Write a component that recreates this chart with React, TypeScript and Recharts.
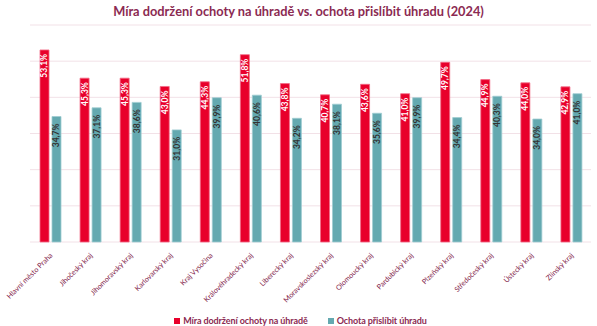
import { BarChart, Bar, XAxis, YAxis, CartesianGrid, LabelList } from 'recharts'

const regions = [
  'Hlavní město Praha',
  'Jihočeský kraj',
  'Jihomoravský kraj',
  'Karlovarský kraj',
  'Kraj Vysočina',
  'Královéhradecký kraj',
  'Liberecký kraj',
  'Moravskoslezský kraj',
  'Olomoucký kraj',
  'Pardubický kraj',
  'Plzeňský kraj',
  'Středočeský kraj',
  'Ústecký kraj',
  'Zlínský kraj',
]

const dodrzeni = [53.1, 45.3, 45.3, 43.0, 44.3, 51.8, 43.8, 40.7, 43.6, 41.0, 49.7, 44.9, 44.0, 42.9]
const prislibit = [34.7, 37.1, 38.6, 31.0, 39.9, 40.6, 34.2, 38.1, 35.6, 39.9, 34.4, 40.3, 34.0, 41.0]

const yTicks = [0, 10, 20, 30, 40, 50, 60]

const RED = '#e8002b'
const TEAL = '#64a9b0'
const MAROON = '#8b2a52'
const FONT = 'Lato, "Open Sans", sans-serif'

const data = regions.map((name, i) => ({ name, dodrzeni: dodrzeni[i], prislibit: prislibit[i] }))

const fmt = (v: number) => v.toFixed(1).replace('.', ',') + '%'

function makeLabel(color: string, offset: number) {
  return (props: any) => {
    const { x, y, width, value } = props
    const cx = x + width / 2
    const ty = y + offset
    return (
      <text
        x={cx}
        y={ty}
        transform={`rotate(-90 ${cx} ${ty})`}
        textAnchor="end"
        dominantBaseline="central"
        fontSize={8.5}
        fontWeight="bold"
        fontFamily={FONT}
        fill={color}
      >
        {fmt(value)}
      </text>
    )
  }
}

function RegionTick(props: any) {
  const { x, y, payload } = props
  return (
    <text
      x={x + 3}
      y={y + 6}
      transform={`rotate(-45 ${x + 3} ${y + 6})`}
      textAnchor="end"
      fontSize={7.2}
      fontFamily={FONT}
      fill="#7f2249"
    >
      {payload.value}
    </text>
  )
}

// legend drawn as plain html under the chart
function ChartLegend() {
  const items = [
    { label: 'Míra dodržení ochoty na úhradě', color: RED },
    { label: 'Ochota přislíbit úhradu', color: TEAL },
  ]
  return (
    <div
      style={{
        position: 'absolute',
        top: 315,
        left: 0,
        width: 597,
        height: 12,
        lineHeight: '12px',
        display: 'flex',
        justifyContent: 'center',
        gap: 20,
        paddingLeft: 4,
        boxSizing: 'border-box',
        fontFamily: FONT,
        fontSize: 9,
        letterSpacing: -0.1,
        fontWeight: 'bold',
        color: MAROON,
      }}
    >
      {items.map((it) => (
        <div key={it.label} style={{ display: 'flex', alignItems: 'center', gap: 3 }}>
          <span style={{ width: 6, height: 6, background: it.color, display: 'inline-block' }} />
          <span>{it.label}</span>
        </div>
      ))}
    </div>
  )
}

export default function App() {
  return (
    <div style={{ position: 'absolute', left: 0, top: 0, width: 597, height: 326, background: '#fff' }}>
      <div
        style={{
          position: 'absolute',
          top: 3,
          left: 0,
          width: 597,
          textAlign: 'center',
          fontFamily: FONT,
          fontSize: 12.8,
          fontWeight: 'bold',
          color: MAROON,
        }}
      >
        Míra dodržení ochoty na úhradě vs. ochota přislíbit úhradu (2024)
      </div>
      <BarChart
        width={597}
        height={326}
        data={data}
        margin={{ top: 25, right: 6, left: 30, bottom: 18 }}
        barSize={9}
        barGap={3}
      >
        <CartesianGrid vertical={false} stroke="#f2e1e7" strokeWidth={1} />
        <XAxis
          dataKey="name"
          interval={0}
          tick={<RegionTick />}
          tickLine={false}
          axisLine={false}
          height={66}
        />
        <YAxis hide domain={[0, 60]} ticks={yTicks} />
        <Bar dataKey="dodrzeni" fill={RED} stroke="#f36a85" strokeWidth={0.8} isAnimationActive={false}>
          <LabelList dataKey="dodrzeni" content={makeLabel('#ffffff', 4)} />
        </Bar>
        <Bar dataKey="prislibit" fill={TEAL} stroke="#9fcdd2" strokeWidth={0.8} isAnimationActive={false}>
          <LabelList dataKey="prislibit" content={makeLabel('#333333', 7)} />
        </Bar>
      </BarChart>
      <ChartLegend />
    </div>
  )
}
